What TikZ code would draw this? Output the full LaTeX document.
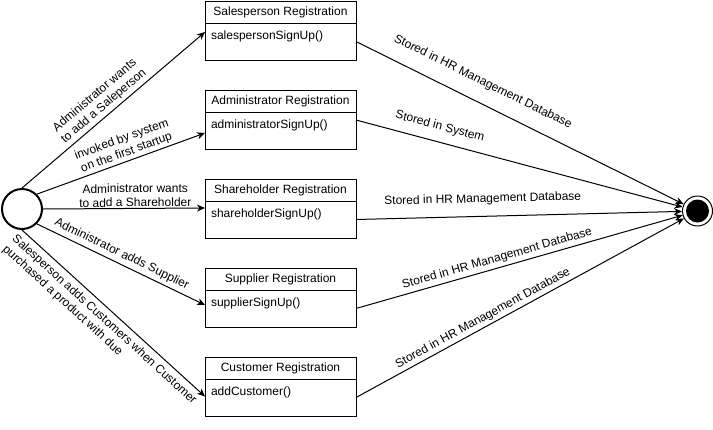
\documentclass[tikz,border=0pt]{standalone}
\usepackage{fontspec}
\setmainfont{Liberation Sans}
\usetikzlibrary{arrows.meta,positioning}

\begin{document}
\begin{tikzpicture}[
  x=1pt, y=-1pt, line width=1pt,
  font=\fontsize{12}{14}\selectfont,
  clshead/.style={draw, minimum width=151pt, minimum height=22pt, inner sep=0pt,
                  outer sep=0pt},
  clsbody/.style={draw, text width=139pt, align=left, inner xsep=6pt, outer sep=0pt,
                  inner ysep=0pt, text height=16.5pt, text depth=20.5pt},
  initst/.style={draw, circle, line width=2pt, minimum size=40pt, inner sep=0pt},
  finalst/.style={draw, circle, minimum size=30pt, inner sep=0pt,
                  path picture={\fill (path picture bounding box.center) circle (11.5pt);}},
  flow/.style={-{Stealth[length=8pt,width=7pt,inset=2.5pt]}},
  lbl/.style={sloped, align=center, inner sep=1pt},
]
\useasboundingbox (0,0) rectangle (713,429);

\node[clshead] (salesHead) at (280.5,12) {Salesperson Registration};
\node[clsbody, below=0pt of salesHead] (sales) {salespersonSignUp()};
\node[clshead, below=30pt of sales] (adminHead) {Administrator Registration};
\node[clsbody, below=0pt of adminHead] (admin) {administratorSignUp()};
\node[clshead, below=30pt of admin] (shareHead) {Shareholder Registration};
\node[clsbody, below=0pt of shareHead] (share) {shareholderSignUp()};
\node[clshead, below=30pt of share] (supplHead) {Supplier Registration};
\node[clsbody, below=0pt of supplHead] (suppl) {supplierSignUp()};
\node[clshead, below=30pt of suppl] (custHead) {Customer Registration};
\node[clsbody, below=0pt of custHead] (cust) {addCustomer()};

\node[initst] (init) at (22,209) {};
\node[finalst] (final) at (697.5,211) {};

% entering the registrations
\draw[flow] (init.north) -- node[lbl, above=2pt, pos=0.48]
  {Administrator wants\\to add a Saleperson} ([yshift=9.5pt]sales.west);
\draw[flow] (init.north east) -- node[lbl, above=1pt, pos=0.55]
  {invoked by system\\on the first startup} ([yshift=-2.5pt]admin.west);
\draw[flow] (init.east) -- node[lbl, above=0pt, pos=0.57]
  {Administrator wants\\to add a Shareholder} ([yshift=11.5pt]share.west);
\draw[flow] (init.south east) -- node[lbl, above=2.5pt, pos=0.48]
  {Administrator adds Supplier} ([yshift=3.5pt]suppl.west);
\draw[flow] (init.south) -- node[lbl, below=4pt, pos=0.49, align=left]
  {Salesperson adds Customers when Customer\\purchased a product with due} ([yshift=1pt]cust.west);

% storing
\draw[flow] ([yshift=10.5pt]admin.east) -- node[lbl, above=8pt, pos=0.245]
  {Stored in System} (final);
\foreach \a/\p/\d in {sales/0.36/13pt, share/0.39/10pt, suppl/0.44/2pt, cust/0.40/1.5pt}
  \draw[flow] (\a.east) -- node[lbl, above=\d, pos=\p] {Stored in HR Management Database} (final);

\end{tikzpicture}
\end{document}
